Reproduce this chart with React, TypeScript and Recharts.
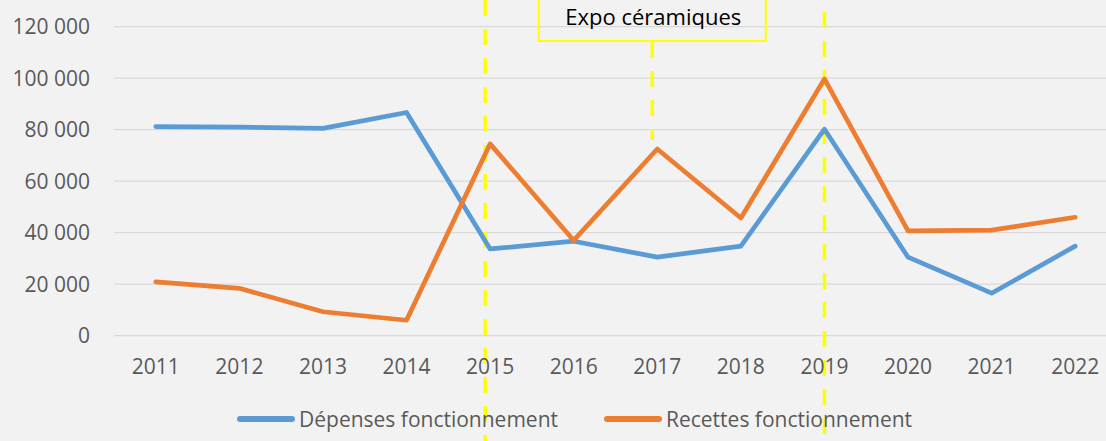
import React from 'react';
import { LineChart, Line, XAxis, YAxis, CartesianGrid, Legend, ReferenceLine } from 'recharts';

const years = ['2011', '2012', '2013', '2014', '2015', '2016', '2017', '2018', '2019', '2020', '2021', '2022'];
const depenses = [81200, 81000, 80500, 86700, 33700, 36700, 30500, 34800, 80200, 30500, 16500, 34800];
const recettes = [20900, 18400, 9300, 6000, 74500, 37000, 72500, 45700, 99700, 40700, 41000, 46000];
const yTicks = [0, 20000, 40000, 60000, 80000, 100000, 120000];
const annotationLabel = 'Expo céramiques';

const data = years.map((y, i) => ({ year: y, depenses: depenses[i], recettes: recettes[i] }));

const FONT = '"Open Sans", sans-serif';
const YELLOW = '#FFFF00';
const BLUE = '#5B9BD5';
const ORANGE = '#ED7D31';
const TEXT = '#595959';

const fmt = (v: number) => {
  const s = String(v);
  return s.replace(/\B(?=(\d{3})+(?!\d))/g, ' ');
};

const dashedShape = (dx: number, top: number, bottom: number) => (props: any) => {
  const x = props.x1 + dx;
  return (
    <line x1={x} x2={x} y1={top} y2={bottom} stroke={YELLOW} strokeWidth={3.5} strokeDasharray="16 13" />
  );
};

const annotShape = (props: any) => {
  const x = props.x1 - 5;
  return (
    <g>
      <defs>
        <clipPath id="annotClip">
          <rect x={x - 120} y={-10} width={240} height={39} />
        </clipPath>
      </defs>
      <line x1={x} x2={x} y1={42} y2={140} stroke={YELLOW} strokeWidth={3.5} strokeDasharray="16 13" />
      <rect x={x - 113.5} y={-10} width={227} height={51} fill="none" stroke={YELLOW} strokeWidth={2} />
      <text x={x + 1} y={25} textAnchor="middle" fontFamily={FONT} fontSize={22} fill="#000000" clipPath="url(#annotClip)">
        {annotationLabel}
      </text>
    </g>
  );
};

const LegendContent = (props: any) => {
  const payload = props.payload || [];
  return (
    <div style={{ display: 'flex', alignItems: 'center', fontFamily: FONT, fontSize: 21, color: TEXT, whiteSpace: 'nowrap' }}>
      {payload.map((p: any, i: number) => (
        <div key={i} style={{ display: 'flex', alignItems: 'center', marginRight: i === 0 ? 46 : 0 }}>
          <svg width={58} height={10} style={{ marginRight: 4 }}>
            <line x1={3} x2={55} y1={5} y2={5} stroke={p.color} strokeWidth={6} strokeLinecap="round" />
          </svg>
          <span>{p.value}</span>
        </div>
      ))}
    </div>
  );
};

export default function App() {
  return (
    <div style={{ position: 'absolute', left: 0, top: 0, width: 1106, height: 441, overflow: 'hidden', background: '#F2F2F2', fontFamily: FONT }}>
      <LineChart width={1130} height={441} data={data} margin={{ top: 26.7, right: 13, bottom: 65.3, left: 0 }}>
        <CartesianGrid horizontal vertical={false} stroke="#D9D9D9" strokeWidth={1.3} />
        <XAxis
          dataKey="year"
          height={40}
          axisLine={false}
          tickLine={false}
          tickSize={0}
          tickMargin={23}
          padding={{ left: 41.8, right: 41.8 }}
          tick={{ fill: TEXT, fontSize: 21, fontFamily: FONT }}
          interval={0}
        />
        <YAxis
          width={114}
          domain={[0, 120000]}
          ticks={yTicks}
          tickFormatter={fmt}
          axisLine={false}
          tickLine={false}
          tickSize={0}
          tickMargin={24}
          tick={{ fill: TEXT, fontSize: 21, fontFamily: FONT }}
          interval={0}
        />
        <ReferenceLine x="2015" ifOverflow="visible" shape={dashedShape(-5, 0, 441)} />
        <ReferenceLine x="2017" ifOverflow="visible" shape={annotShape} />
        <ReferenceLine x="2019" ifOverflow="visible" shape={dashedShape(0, 12, 441)} />
        <Line
          dataKey="depenses"
          name="Dépenses fonctionnement"
          stroke={BLUE}
          strokeWidth={4.7}
          dot={false}
          activeDot={false}
          strokeLinejoin="round"
          strokeLinecap="round"
          isAnimationActive={false}
        />
        <Line
          dataKey="recettes"
          name="Recettes fonctionnement"
          stroke={ORANGE}
          strokeWidth={4.7}
          dot={false}
          activeDot={false}
          strokeLinejoin="round"
          strokeLinecap="round"
          isAnimationActive={false}
        />
        <Legend
          verticalAlign="middle"
          align="center"
          content={<LegendContent />}
          wrapperStyle={{ position: 'absolute', left: 237, top: 405, width: 'auto' }}
        />
      </LineChart>
    </div>
  );
}
